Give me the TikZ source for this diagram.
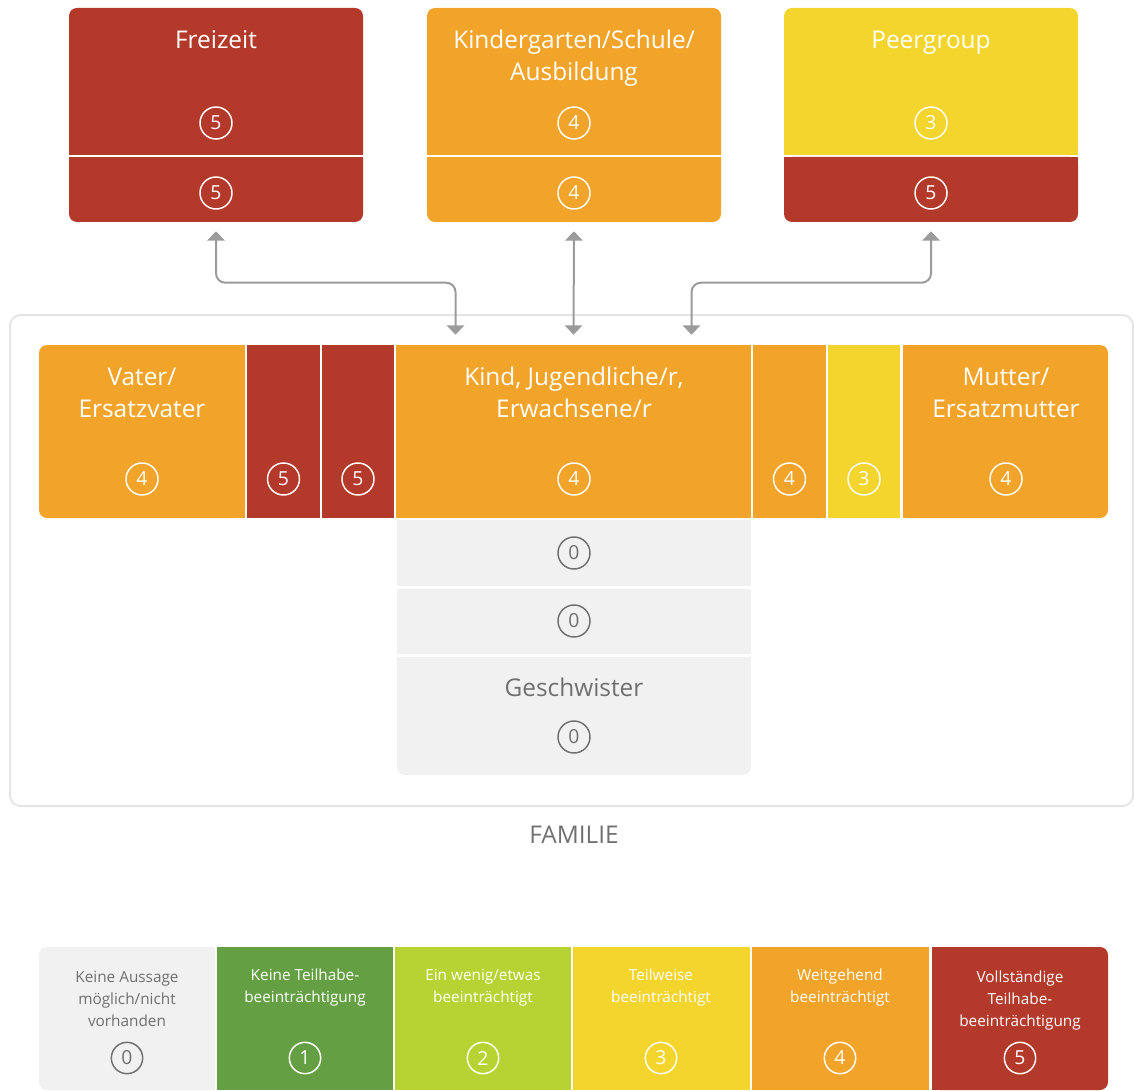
\documentclass[tikz,border=0pt]{standalone}
\usepackage{fontspec}
\setmainfont{Open Sans}
\usetikzlibrary{arrows.meta,calc,fit}
\definecolor{cred}{HTML}{B3392A}
\definecolor{corange}{HTML}{F2A42A}
\definecolor{cyellow}{HTML}{F4D52E}
\definecolor{cgreen}{HTML}{64A043}
\definecolor{clime}{HTML}{B7D333}
\definecolor{cgbox}{HTML}{F0F1F0}
\definecolor{cgtext}{HTML}{707070}
\definecolor{carrow}{HTML}{9B9B9B}
\definecolor{cframe}{HTML}{E5E5E5}
\begin{document}
\begin{tikzpicture}[x=0.75pt,y=-0.75pt,
  num/.style={circle, draw=white, line width=1.1pt, minimum size=24pt, inner sep=0pt, text=white, font=\fontsize{14.5}{14.5}\selectfont},
  numg/.style={num, draw=cgtext, text=cgtext},
  lnum/.style={num, minimum size=23.5pt},
  lnumg/.style={numg, minimum size=23.5pt},
  lbl/.style={text=white, font=\fontsize{18.3}{24}\selectfont, align=center, inner sep=0pt, anchor=base},
  glbl/.style={lbl, text=cgtext},
  leg/.style={text=white, font=\fontsize{11.5}{16.5}\selectfont, align=center, inner sep=0pt, anchor=base},
  gleg/.style={leg, text=cgtext},
  area/.style={inner sep=0pt},
  arr/.style={draw=carrow, line width=1.5pt, {Triangle[width=13pt,length=7pt]}-{Triangle[width=13pt,length=7pt]}, rounded corners=7pt},
  sep/.style={white, line width=1.5pt}
]
\useasboundingbox (0,0) rectangle (1134,1091);

% ---------- top boxes ----------
\fill[cred, rounded corners=6pt] (69,8) rectangle (363,222);
\draw[sep] (69,156) -- (363,156);
\node[area, fit={(69,8)(363,222)}] (freizeit) {};
\node[lbl] (fzt) at (216,49) {Freizeit};
\node[num] (fz1) at (216,123) {5};
\node[num] (fz2) at (216,193) {5};

\fill[corange, rounded corners=6pt] (427,8) rectangle (721,222);
\draw[sep] (427,156) -- (721,156);
\node[area, fit={(427,8)(721,222)}] (kg) {};
\node[lbl] (kgt) at (574,81) {Kindergarten/Schule/\\Ausbildung};
\node[num] (kg1) at (574,123) {4};
\node[num] (kg2) at (574,193) {4};

\fill[cyellow, rounded corners=6pt] (784,8) rectangle (1078,155);
\fill[cyellow] (784,100) rectangle (1078,155);
\fill[cred, rounded corners=6pt] (784,157) rectangle (1078,222);
\fill[cred] (784,157) rectangle (1078,190);
\node[area, fit={(784,8)(1078,222)}] (peer) {};
\node[lbl] (pgt) at (931,49) {Peergroup};
\node[num] (pg1) at (931,123) {3};
\node[num] (pg2) at (931,193) {5};

% ---------- family frame ----------
\draw[cframe, line width=1.5pt, rounded corners=8pt] (10,315) rectangle (1133,806);
\node[font=\fontsize{18.3}{18}\selectfont, text=cgtext, anchor=base, inner sep=0pt] (fam) at (574,843) {FAMILIE};

% ---------- main row ----------
\fill[corange, rounded corners=6pt] (39,345) rectangle (245,518);
\fill[corange] (150,345) rectangle (245,518);
\node[area, fit={(39,345)(245,518)}] (vater) {};
\node[lbl] (vt) at (142,417) {Vater/\\Ersatzvater};
\node[num] (v1) at (142,479) {4};

\fill[cred] (247,345) rectangle (320,518);
\node[area, fit={(247,345)(320,518)}] (r1) {};
\node[num] (r1n) at (283.5,479) {5};
\fill[cred] (322,345) rectangle (394,518);
\node[area, fit={(322,345)(394,518)}] (r2) {};
\node[num] (r2n) at (358,479) {5};

\fill[corange] (396,345) rectangle (751,518);
\node[area, fit={(396,345)(751,518)}] (kind) {};
\node[lbl] (kt) at (574,417) {Kind, Jugendliche/r,\\Erwachsene/r};
\node[num] (kn) at (574,479) {4};

\fill[corange] (753,345) rectangle (826,518);
\node[area, fit={(753,345)(826,518)}] (o1) {};
\node[num] (o1n) at (789.5,479) {4};
\fill[cyellow] (828,345) rectangle (900,518);
\node[area, fit={(828,345)(900,518)}] (y1) {};
\node[num] (y1n) at (864,479) {3};

\fill[corange, rounded corners=6pt] (903,345) rectangle (1108,518);
\fill[corange] (903,345) rectangle (1000,518);
\node[area, fit={(903,345)(1108,518)}] (mutter) {};
\node[lbl] (mt) at (1006,417) {Mutter/\\Ersatzmutter};
\node[num] (mn) at (1006,479) {4};

% ---------- siblings ----------
\fill[cgbox] (397,520) rectangle (751,586);
\node[area, fit={(397,520)(751,586)}] (g1) {};
\node[numg] (g1n) at (574,553) {0};
\fill[cgbox] (397,589) rectangle (751,654);
\node[area, fit={(397,589)(751,654)}] (g2) {};
\node[numg] (g2n) at (574,621) {0};
\fill[cgbox, rounded corners=6pt] (397,657) rectangle (751,775);
\fill[cgbox] (397,657) rectangle (751,720);
\node[area, fit={(397,657)(751,775)}] (g3) {};
\node[glbl] (gt) at (574,696) {Geschwister};
\node[numg] (g3n) at (574,737) {0};

% ---------- arrows ----------
\draw[arr] ($(freizeit.south)+(0,9)$) |- ($(kind.north)+(-118,-62)$) -- ($(kind.north)+(-118,-10)$);
\draw[arr] ($(kg.south)+(0,9)$) -- ($(kind.north)+(0,-10)$);
\draw[arr] ($(peer.south)+(0,9)$) |- ($(kind.north)+(118,-62)$) -- ($(kind.north)+(118,-10)$);

% ---------- legend ----------
\fill[cgbox, rounded corners=6pt] (39,947) rectangle (215,1090);
\fill[cgbox] (120,947) rectangle (215,1090);
\node[area, fit={(39,947)(215,1090)}] (l0) {};
\node[gleg] (l0t) at (127,1026) {Keine Aussage\\möglich/nicht\\vorhanden};
\node[lnumg] (l0n) at (127,1058) {0};

\fill[cgreen] (217,947) rectangle (393,1090);
\node[area, fit={(217,947)(393,1090)}] (l1) {};
\node[leg] (l1t) at (305,1002) {Keine Teilhabe-\\beeinträchtigung};
\node[lnum] (l1n) at (305,1058) {1};

\fill[clime] (395,947) rectangle (571,1090);
\node[area, fit={(395,947)(571,1090)}] (l2) {};
\node[leg] (l2t) at (483,1002) {Ein wenig/etwas\\beeinträchtigt};
\node[lnum] (l2n) at (483,1058) {2};

\fill[cyellow] (573,947) rectangle (750,1090);
\node[area, fit={(573,947)(750,1090)}] (l3) {};
\node[leg] (l3t) at (661,1002) {Teilweise\\beeinträchtigt};
\node[lnum] (l3n) at (661,1058) {3};

\fill[corange] (752,947) rectangle (929,1090);
\node[area, fit={(752,947)(929,1090)}] (l4) {};
\node[leg] (l4t) at (840,1002) {Weitgehend\\beeinträchtigt};
\node[lnum] (l4n) at (840,1058) {4};

\fill[cred, rounded corners=6pt] (932,947) rectangle (1108,1090);
\fill[cred] (932,947) rectangle (1000,1090);
\node[area, fit={(932,947)(1108,1090)}] (l5) {};
\node[leg] (l5t) at (1020,1026) {Vollständige\\Teilhabe-\\beeinträchtigung};
\node[lnum] (l5n) at (1020,1058) {5};
\end{tikzpicture}
\end{document}
